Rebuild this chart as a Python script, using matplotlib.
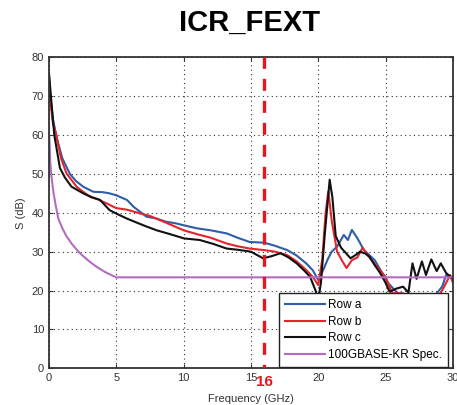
import matplotlib
matplotlib.use("Agg")
import matplotlib.pyplot as plt

plt.rcParams["font.family"] = ["Liberation Sans Narrow", "Liberation Sans", "DejaVu Sans"]

# measured ICR curves (frequency in GHz, ICR in dB)
freq_a = [0, 0.1, 0.3, 0.6, 1.0, 1.56, 2.0, 2.55, 3.3, 4.0, 4.5, 5.0, 5.8, 6.3, 7.25, 8.0,
          8.7, 9.4, 10.0, 11.0, 12.0, 13.2, 14.0, 14.9, 16.0, 16.8, 17.7, 18.4, 19.1, 19.6,
          20.0, 20.4, 20.7, 21.0, 21.4, 21.9, 22.2, 22.5, 22.9, 23.4, 24.2, 25.2, 25.9,
          26.5, 27.2, 28.0, 28.8, 29.2, 29.5, 30]
icr_a = [76, 70, 64, 59, 54, 50, 48.2, 46.7, 45.4, 45.3, 45, 44.5, 43.3, 41.5, 39, 38.5,
         37.7, 37.3, 36.8, 36, 35.5, 34.7, 33.6, 32.5, 32.3, 31.5, 30.4, 29, 27, 25.2,
         22.7, 25.5, 28, 30, 31.3, 34.3, 33, 35.6, 33.5, 30.4, 27.8, 21.9, 19.3,
         17, 16, 16.5, 19.3, 21, 24, 23]

freq_b = [0, 0.1, 0.3, 0.55, 0.9, 1.31, 2.06, 2.5, 3.05, 3.6, 4.3, 5.0, 5.8, 6.8, 7.5, 8.25,
          9.0, 10.0, 11.0, 12.0, 13.2, 14.0, 14.9, 16.0, 16.8, 17.7, 18.4, 19.1, 19.6, 20.0,
          20.3, 20.55, 20.75, 21.0, 21.4, 21.8, 22.1, 22.5, 22.9, 23.3, 23.7, 24.4, 25.0,
          25.5, 26.3, 27.0, 27.8, 28.6, 29.2, 29.8, 30]
icr_b = [75, 69, 63, 60, 54, 50.1, 46.7, 45.5, 44.1, 43.5, 42.4, 41.2, 40.8, 39.8, 39.2, 38.1,
         37, 35.5, 34.5, 33.6, 32.1, 31.4, 30.8, 30.4, 30, 29.1, 27.5, 25.3, 23.5, 21.4,
         28, 40, 45.5, 38, 30, 27.5, 25.8, 27.8, 28.5, 31, 29, 26, 23.5,
         19.3, 19.3, 16.5, 15.5, 17, 20, 24, 22]

freq_c = [0, 0.1, 0.2, 0.4, 0.82, 1.2, 1.68, 2.55, 3.2, 3.8, 4.5, 5.0, 5.8, 7.0, 8.0, 9.0,
          10.05, 11.2, 12.2, 13.2, 14.0, 15.0, 15.9, 16.5, 17.2, 17.8, 18.4, 19.0, 19.4,
          19.8, 20.0, 20.2, 20.5, 20.85, 21.05, 21.3, 21.7, 22.4, 22.8, 23.1, 23.5, 23.8,
          24.2, 24.6, 25.0, 25.3, 25.8, 26.3, 26.7, 27.0, 27.3, 27.7, 28.0, 28.4, 28.8,
          29.1, 29.5, 30]
icr_c = [76, 72, 68, 60, 51.5, 49, 46.7, 45, 44, 43.3, 40.7, 39.8, 38.5, 36.8, 35.5, 34.5,
         33.4, 33, 32, 30.8, 30.5, 30, 28.3, 28.8, 29.6, 28.5, 27, 25, 23.5,
         20, 17.5, 22, 35, 48.5, 44, 34, 31, 28.3, 29.2, 30, 29.5, 28.7,
         26.5, 24.5, 22, 19.7, 20.5, 21, 19.5, 27, 23, 27.5, 24, 28, 25,
         27, 24.5, 23]

# 100GBASE-KR ICR limit
freq_spec = [0.02, 0.05, 0.1, 0.2, 0.35, 0.5, 0.7, 1.0, 1.3, 1.7, 2.3, 3.0, 3.5, 4.2, 5.0, 30]
icr_spec = [60, 58, 53, 49, 45, 42, 38.5, 36, 34, 32, 29.6, 27.5, 26.2, 24.7, 23.4, 23.4]

series_labels = ["Row a", "Row b", "Row c", "100GBASE-KR Spec."]
series_colors = ["#2e5ea8", "#e2262b", "#111111", "#b46cc0"]
marker_freq = 16

fig = plt.figure(figsize=(4.57, 4.05), dpi=100)
ax = fig.add_axes([0.107, 0.0906, 0.884, 0.768])

for f, v, lab, col in zip([freq_a, freq_b, freq_c, freq_spec],
                          [icr_a, icr_b, icr_c, icr_spec],
                          series_labels, series_colors):
    ax.plot(f, v, color=col, lw=1.5, label=lab)

ax.axvline(marker_freq, color="#e8141e", lw=2.4, ls=(2.5, (3.6, 3.0)), zorder=5)

ax.set_xlim(0, 30)
ax.set_ylim(0, 80)
ax.set_xticks(range(0, 31, 5))
ax.set_yticks(range(0, 81, 10))
ax.grid(True, ls=(0, (1, 3)), color="#333333", lw=0.8)
ax.tick_params(direction="in", top=True, right=True, labelsize=8, colors="#333333",
               length=3)
for s in ax.spines.values():
    s.set_color("#333333")
    s.set_linewidth(1.3)

ax.set_xlabel("Frequency (GHz)", fontsize=8, color="#333333", labelpad=8)
ax.set_ylabel("S (dB)", fontsize=8, color="#333333", labelpad=4)
ax.text(marker_freq, -1.6, str(marker_freq), color="#e8141e", fontsize=11,
        fontweight="bold", ha="center", va="top", family="Liberation Sans")

fig.text(0.547, 0.944, "ICR_FEXT", fontsize=21, fontweight="bold", ha="center",
         va="center", family="Liberation Sans")

leg = ax.legend(loc="lower right", bbox_to_anchor=(0.988, 0.004), borderaxespad=0,
                fontsize=8.5, handlelength=3.4, handletextpad=0.3, fancybox=False,
                framealpha=1, edgecolor="#222222", labelspacing=0.4, borderpad=0.5)
leg.get_frame().set_linewidth(1.0)

fig.savefig("out.png", dpi=100)
